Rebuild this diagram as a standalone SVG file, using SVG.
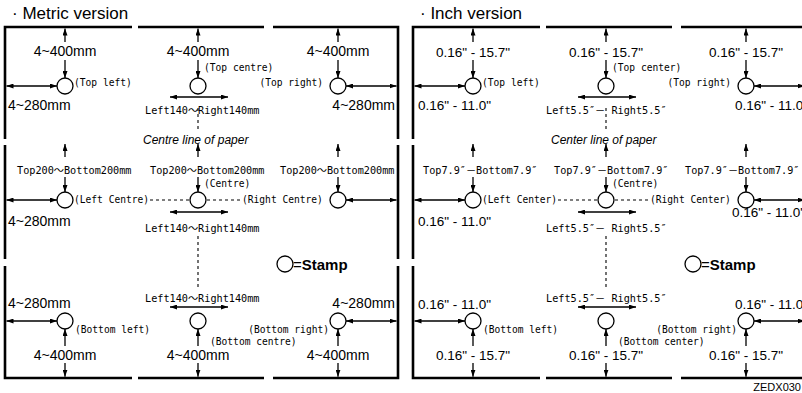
<svg xmlns="http://www.w3.org/2000/svg" width="802" height="393" viewBox="0 0 802 393">
<defs>
<style>
.bd{fill:none;stroke:#000;stroke-width:2.6}
.ar{fill:none;stroke:#000;stroke-width:1.3;marker-end:url(#ah)}
.ar2{fill:none;stroke:#000;stroke-width:1.3;marker-start:url(#ah);marker-end:url(#ah)}
.ds{fill:none;stroke:#000;stroke-width:1.1;stroke-dasharray:3 3}
.st{fill:#fff;stroke:#000;stroke-width:1.3}
text{fill:#000}
.ti{font-family:"Liberation Sans",Arial,sans-serif;font-size:17px}
.dm{font-family:"Liberation Sans",Arial,sans-serif;font-size:14px;text-anchor:middle}
.dms{font-family:"Liberation Sans",Arial,sans-serif;font-size:14px}
.di{font-family:"Liberation Sans",Arial,sans-serif;font-size:13.5px;text-anchor:middle}
.dis{font-family:"Liberation Sans",Arial,sans-serif;font-size:13.5px}
.lb{font-family:"DejaVu Sans Mono","Noto Sans CJK JP",monospace;font-size:9.6px}
.rg{font-family:"DejaVu Sans Mono","Noto Sans CJK JP",monospace;font-size:10.2px}
.cl{font-family:"Liberation Sans",Arial,sans-serif;font-size:12px;font-style:italic}
.sp{font-family:"Liberation Sans",Arial,sans-serif;font-size:15px}
.zd{font-family:"Liberation Sans",Arial,sans-serif;font-size:11px;text-anchor:end}
</style>
<marker id="ah" viewBox="0 0 7 5" refX="7" refY="2.5" markerWidth="7" markerHeight="5" markerUnits="userSpaceOnUse" orient="auto-start-reverse"><path d="M0,0 L7,2.5 L0,5 z" fill="#000"/></marker>
</defs>
<rect width="802" height="393" fill="#fff"/>

<g id="frame">
<g id="frame-m">
<path class="bd" d="M5,139 V27 H132"/>
<path class="bd" d="M138,27 H264"/>
<path class="bd" d="M273,27 H398 V139"/>
<path class="bd" d="M5,145 V259"/>
<path class="bd" d="M398,145 V259"/>
<path class="bd" d="M5,266 V378 H132"/>
<path class="bd" d="M138,378 H264"/>
<path class="bd" d="M273,378 H398 V266"/>
</g>
<use href="#frame-m" x="408"/>
</g>

<g id="connectors">
<g id="conn-m">
<path class="ar" d="M65,42 V28.5"/>
<path class="ar" d="M65,60 V78"/>
<path class="ar2" d="M6.5,86 H57"/>
<path class="ar" d="M198,42 V28.5"/>
<path class="ar" d="M198,60 V78"/>
<path class="ar2" d="M170,97 H228"/>
<path class="ds" d="M198,108 V131"/>
<path class="ar" d="M338,42 V28.5"/>
<path class="ar" d="M338,60 V78"/>
<path class="ar2" d="M346,86 H396.5"/>

<path class="ar" d="M65,157 V144"/>
<path class="ar" d="M65,177 V192"/>
<path class="ar2" d="M6.5,200 H57"/>
<path class="ar" d="M198,157 V144"/>
<path class="ar" d="M198,177 V192"/>
<path class="ar2" d="M170,212 H228"/>
<path class="ds" d="M150,200 H189"/>
<path class="ds" d="M207,200 H240"/>
<path class="ds" d="M198,236 V287"/>
<path class="ar" d="M338,157 V144"/>
<path class="ar" d="M338,177 V192"/>
<path class="ar2" d="M346,200 H396.5"/>

<path class="ar" d="M65,346 V329"/>
<path class="ar" d="M65,363 V376.7"/>
<path class="ar2" d="M6.5,321 H57"/>
<path class="ar2" d="M170,307 H228"/>
<path class="ar" d="M198,346 V329"/>
<path class="ar" d="M198,363 V376.7"/>
<path class="ar" d="M338,346 V329"/>
<path class="ar" d="M338,363 V376.7"/>
<path class="ar2" d="M346,321 H396.5"/>
</g>
<use href="#conn-m" x="408"/>
</g>

<!-- titles -->
<text class="ti" x="12" y="19">· Metric version</text>
<text class="ti" x="420" y="19">· Inch version</text>

<!-- metric nodes -->
<g id="m-top-left"><circle class="st" cx="65" cy="86" r="8"/><text class="lb" x="74" y="86">(Top left)</text></g>
<g id="m-top-centre"><circle class="st" cx="198" cy="86" r="8"/><text class="lb" x="204" y="71">(Top centre)</text></g>
<g id="m-top-right"><circle class="st" cx="338" cy="86" r="8"/><text class="lb" x="323" y="86" text-anchor="end">(Top right)</text></g>
<g id="m-left-centre"><circle class="st" cx="65" cy="200" r="8"/><text class="lb" x="74" y="203">(Left Centre)</text></g>
<g id="m-centre"><circle class="st" cx="198" cy="200" r="8"/><text class="lb" x="204" y="187">(Centre)</text></g>
<g id="m-right-centre"><circle class="st" cx="338" cy="200" r="8"/><text class="lb" x="242" y="203">(Right Centre)</text></g>
<g id="m-bottom-left"><circle class="st" cx="65" cy="321" r="8"/><text class="lb" x="75" y="333">(Bottom left)</text></g>
<g id="m-bottom-centre"><circle class="st" cx="198" cy="321" r="8"/><text class="lb" x="210" y="345">(Bottom centre)</text></g>
<g id="m-bottom-right"><circle class="st" cx="338" cy="321" r="8"/><text class="lb" x="329" y="333" text-anchor="end">(Bottom right)</text></g>
<g id="m-stamp"><circle class="st" cx="285" cy="264" r="8"/><text class="sp" x="293" y="269.5">=<tspan font-weight="bold">Stamp</tspan></text></g>

<!-- metric dimension labels -->
<g id="m-labels">
<text class="dm" x="65" y="56">4~400mm</text>
<text class="dm" x="198" y="56">4~400mm</text>
<text class="dm" x="338" y="56">4~400mm</text>
<text class="dm" x="65" y="360">4~400mm</text>
<text class="dm" x="198" y="360">4~400mm</text>
<text class="dm" x="338" y="360">4~400mm</text>
<text class="dms" x="8" y="110">4~280mm</text>
<text class="dms" x="395" y="110" text-anchor="end">4~280mm</text>
<text class="dms" x="8" y="226">4~280mm</text>
<text class="dms" x="8" y="308">4~280mm</text>
<text class="dms" x="395" y="308" text-anchor="end">4~280mm</text>
<text class="rg" x="145" y="114">Left140～Right140mm</text>
<text class="rg" x="145" y="232">Left140～Right140mm</text>
<text class="rg" x="145" y="302">Left140～Right140mm</text>
<text class="rg" x="17" y="174">Top200～Bottom200mm</text>
<text class="rg" x="150" y="174">Top200～Bottom200mm</text>
<text class="rg" x="280" y="174">Top200～Bottom200mm</text>
<text class="cl" x="143" y="144">Centre line of paper</text>
</g>

<!-- inch nodes -->
<g id="i-top-left"><circle class="st" cx="473" cy="86" r="8"/><text class="lb" x="482" y="86">(Top left)</text></g>
<g id="i-top-center"><circle class="st" cx="606" cy="86" r="8"/><text class="lb" x="612" y="71">(Top center)</text></g>
<g id="i-top-right"><circle class="st" cx="746" cy="86" r="8"/><text class="lb" x="731" y="86" text-anchor="end">(Top right)</text></g>
<g id="i-left-center"><circle class="st" cx="473" cy="200" r="8"/><text class="lb" x="482" y="203">(Left Center)</text></g>
<g id="i-centre"><circle class="st" cx="606" cy="200" r="8"/><text class="lb" x="612" y="187">(Centre)</text></g>
<g id="i-right-center"><circle class="st" cx="746" cy="200" r="8"/><text class="lb" x="650" y="203">(Right Center)</text></g>
<g id="i-bottom-left"><circle class="st" cx="473" cy="321" r="8"/><text class="lb" x="483" y="333">(Bottom left)</text></g>
<g id="i-bottom-center"><circle class="st" cx="606" cy="321" r="8"/><text class="lb" x="618" y="345">(Bottom center)</text></g>
<g id="i-bottom-right"><circle class="st" cx="746" cy="321" r="8"/><text class="lb" x="737" y="333" text-anchor="end">(Bottom right)</text></g>
<g id="i-stamp"><circle class="st" cx="693" cy="264" r="8"/><text class="sp" x="701" y="269.5">=<tspan font-weight="bold">Stamp</tspan></text></g>

<!-- inch dimension labels -->
<g id="i-labels">
<text class="di" x="473" y="57">0.16" - 15.7"</text>
<text class="di" x="606" y="57">0.16" - 15.7"</text>
<text class="di" x="746" y="57">0.16" - 15.7"</text>
<text class="di" x="473" y="360">0.16" - 15.7"</text>
<text class="di" x="606" y="360">0.16" - 15.7"</text>
<text class="di" x="746" y="360">0.16" - 15.7"</text>
<text class="dis" x="418" y="110">0.16" - 11.0"</text>
<text class="dis" x="735" y="110">0.16" - 11.0"</text>
<text class="dis" x="418" y="226">0.16" - 11.0"</text>
<text class="dis" x="732" y="217">0.16" - 11.0"</text>
<text class="dis" x="418" y="309">0.16" - 11.0"</text>
<text class="dis" x="735" y="309">0.16" - 11.0"</text>
<text class="rg" x="546" y="114">Left5.5″－ Right5.5″</text>
<text class="rg" x="546" y="232">Left5.5″－ Right5.5″</text>
<text class="rg" x="546" y="302">Left5.5″－ Right5.5″</text>
<text class="rg" x="423" y="174">Top7.9″－Bottom7.9″</text>
<text class="rg" x="554" y="174">Top7.9″－Bottom7.9″</text>
<text class="rg" x="685" y="174">Top7.9″－Bottom7.9″</text>
<text class="cl" x="551" y="144">Center line of paper</text>
</g>

<text class="zd" x="801" y="391">ZEDX030</text>
</svg>
